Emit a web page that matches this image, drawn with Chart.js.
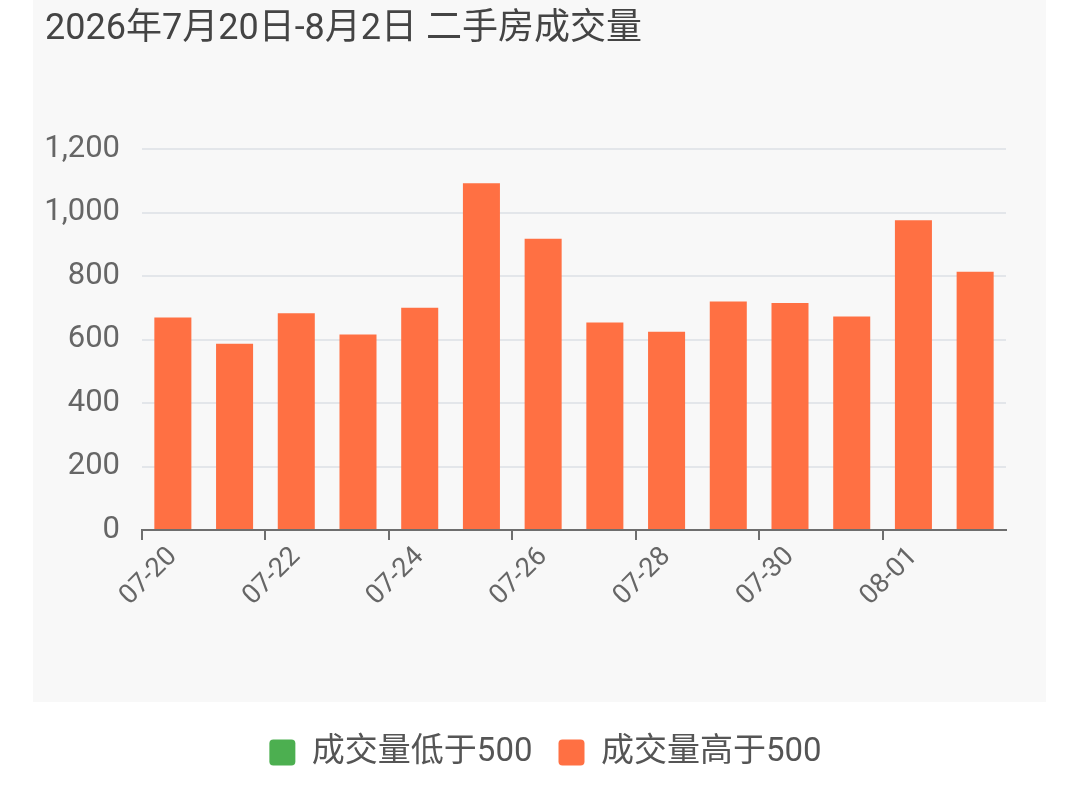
<!DOCTYPE html>
<html>
<head>
<meta charset="utf-8">
<script src="https://cdn.jsdelivr.net/npm/chart.js@4/dist/chart.umd.min.js"></script>
<style>
  html, body { margin: 0; padding: 0; background: #ffffff; }
  #wrap { position: relative; width: 1080px; height: 787px; background: #ffffff; overflow: hidden; }
  #panel { position: absolute; left: 33px; top: 0; width: 1013px; height: 702px; background: #f8f8f8; }
  #box { position: absolute; left: 0; top: 0; width: 1080px; height: 787px; }
</style>
</head>
<body>
<div id="wrap">
  <div id="panel"></div>
  <div id="box"><canvas id="c"></canvas></div>
</div>
<script>
const titleText = '2026年7月20日-8月2日 二手房成交量';
const categories = ['07-20','07-21','07-22','07-23','07-24','07-25','07-26','07-27','07-28','07-29','07-30','07-31','08-01','08-02'];
const volumes = [670, 587, 683, 616, 700, 1093, 918, 654, 625, 720, 715, 673, 976, 814];
const threshold = 500;
const seriesNames = ['成交量低于500', '成交量高于500'];
const yTicks = [0, 200, 400, 600, 800, 1000, 1200];

const lowData = volumes.map(v => v < threshold ? v : null);
const highData = volumes.map(v => v >= threshold ? v : null);

const FONT = "Roboto, 'Noto Sans CJK SC', sans-serif";

new Chart(document.getElementById('c'), {
  type: 'bar',
  data: {
    labels: categories,
    datasets: [
      { label: seriesNames[0], data: lowData, backgroundColor: '#4caf50', borderWidth: 0,
        categoryPercentage: 0.8, barPercentage: 0.75 },
      { label: seriesNames[1], data: highData, backgroundColor: '#ff7043', borderWidth: 0,
        categoryPercentage: 0.8, barPercentage: 0.75 }
    ]
  },
  options: {
    responsive: true,
    maintainAspectRatio: false,
    animation: false,
    devicePixelRatio: 1,
    layout: { padding: { left: 45, right: 34, top: 0, bottom: 8 } },
    plugins: {
      title: {
        display: true, text: titleText, align: 'start',
        color: '#444444', font: { family: FONT, size: 36, weight: 'normal' },
        padding: { top: 8, bottom: 98 }
      },
      legend: {
        display: true, position: 'bottom',
        labels: {
          color: '#555555', font: { family: FONT, size: 33 },
          boxWidth: 26, boxHeight: 26, useBorderRadius: true, borderRadius: 4,
          padding: 26
        }
      },
      tooltip: { enabled: false }
    },
    scales: {
      x: {
        stacked: true,
        offset: true,
        grid: {
          offset: true, drawOnChartArea: false, drawTicks: true, tickLength: 10,
          lineWidth: 2,
          color: ctx => (ctx.index % 2 === 0 ? '#6e6e6e' : 'rgba(0,0,0,0)')
        },
        border: { display: true, color: '#6e6e6e', width: 2 },
        ticks: {
          autoSkip: false, minRotation: 45, maxRotation: 45, padding: 1,
          color: '#666666', font: { family: FONT, size: 27 },
          callback: function (val, i) { return i % 2 === 0 ? this.getLabelForValue(val) : ''; }
        },
        afterFit: s => { s.height = 180; }
      },
      y: {
        stacked: true,
        min: 0, max: 1200,
        afterBuildTicks: s => { s.ticks = yTicks.map(v => ({ value: v })); },
        grid: { color: '#e3e6ea', lineWidth: 2, drawTicks: false },
        border: { display: false },
        ticks: { color: '#666666', font: { family: FONT, size: 31 }, padding: 22 },
        afterFit: s => { s.width = 97; }
      },
      yRight: {
        position: 'right',
        display: true,
        grid: { display: false, drawTicks: false },
        border: { display: false },
        ticks: { display: false },
        afterFit: s => { s.width = 40; }
      }
    }
  }
});
</script>
</body>
</html>
